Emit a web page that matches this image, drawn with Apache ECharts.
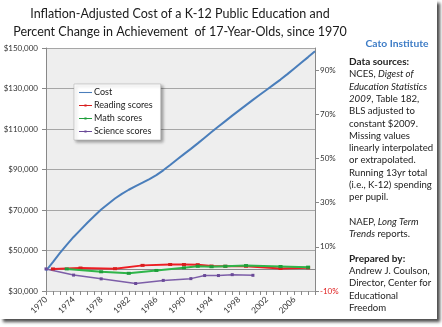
<!DOCTYPE html>
<html><head><meta charset="utf-8">
<script src="https://cdn.jsdelivr.net/npm/echarts@6/dist/echarts.min.js"></script>
<style>html,body{margin:0;padding:0;background:#fff}#c{width:442px;height:327px}</style>
</head><body><div id="c"></div>
<script>
// ---- data ----
const costYears = [1970,1971,1972,1973,1974,1975,1976,1977,1978,1979,1980,1981,1982,1983,1984,1985,1986,1987,1988,1989,1990,1991,1992,1993,1994,1995,1996,1997,1998,1999,2000,2001,2002,2003,2004,2005,2006,2007,2008,2009];
const costValues = [40000,44300,48700,52800,56700,60200,63700,67000,70200,73000,75700,78000,80000,81800,83500,85300,87200,89600,92200,94900,97600,100200,102900,105700,108500,111200,113900,116600,119200,121800,124400,126900,129400,131900,134400,137100,139900,142700,145500,148400];

const readingYears = [1971,1975,1980,1984,1988,1990,1992,1994,1996,1999,2004,2008];
const readingPct   = [0,0.4,0.1,1.6,2.0,2.0,1.9,1.3,1.2,1.2,0.2,0.5];

const mathYears = [1973,1978,1982,1986,1990,1992,1994,1996,1999,2004,2008];
const mathPct   = [0,-1.3,-2.0,-0.7,0.5,1.2,1.0,1.2,1.5,1.1,0.8];

const scienceYears = [1970,1974,1978,1983,1987,1991,1993,1995,1997,2000];
const sciencePct   = [0,-2.8,-4.5,-6.6,-5.2,-4.4,-3.0,-3.0,-2.6,-2.9];

const seriesNames = ['Cost','Reading scores','Math scores','Science scores'];
const titleLines = ['Inflation-Adjusted Cost of a K-12 Public Education and',
                    'Percent Change in Achievement  of 17-Year-Olds, since 1970'];
const brand = 'Cato Institute';
// each line: list of [text, style] (n = normal, i = italic, b = bold)
const noteLines = [
  [['Data sources:','b']],
  [['NCES, ','n'],['Digest of','i']],
  [['Education Statistics','i']],
  [['2009','i'],[', Table 182,','n']],
  [['BLS adjusted to','n']],
  [['constant $2009.','n']],
  [['Missing values','n']],
  [['linearly interpolated','n']],
  [['or extrapolated.','n']],
  [['Running 13yr total','n']],
  [['(i.e., K-12) spending','n']],
  [['per pupil.','n']],
  [],
  [['NAEP, ','n'],['Long Term','i']],
  [['Trends','i'],[' reports.','n']],
  [],
  [['Prepared by:','b']],
  [['Andrew J. Coulson,','n']],
  [['Director, Center for','n']],
  [['Educational','n']],
  [['Freedom','n']]
];

// ---- build ----
const FONT = 'Lato, "Liberation Sans", sans-serif';
const zip = (xs, ys) => xs.map((x, i) => [x, ys[i]]);

const graphics = [];
graphics.push({type:'rect', z:-100, shape:{x:0,y:0,width:437,height:319},
  style:{fill:'#fff', shadowBlur:3, shadowOffsetX:3, shadowOffsetY:3, shadowColor:'rgba(0,0,0,0.7)'}});
titleLines.forEach((t, i) => graphics.push({type:'text', z:10, style:{
  text:t, x:180, y:14 + i*18, align:'center', verticalAlign:'middle',
  font:'12.5px ' + FONT, fill:'#1a1a1a'}}));
graphics.push({type:'text', z:10, style:{text:brand, x:397, y:44, align:'center', verticalAlign:'middle',
  font:'bold 10.3px ' + FONT, fill:'#3d7cc6'}});
noteLines.forEach((segs, i) => {
  if (!segs.length) return;
  graphics.push({type:'text', z:10, style:{
    text: segs.map(s => '{' + s[1] + '|' + s[0] + '}').join(''),
    x:349, y:62 + i*12.3, verticalAlign:'middle',
    rich:{
      n:{font:'9.6px ' + FONT, fill:'#222'},
      i:{font:'italic 9.6px ' + FONT, fill:'#222'},
      b:{font:'bold 10px ' + FONT, fill:'#222'}
    }}});
});

const lineIcon = 'path://M0,3H24V5H0Z';
const markIcon = 'path://M0,3H10V2H14V3H24V5H14V6H10V5H0Z';

const chart = echarts.init(document.getElementById('c'), null, {renderer:'canvas'});
chart.setOption({
  animation:false,
  textStyle:{fontFamily:FONT},
  graphic:graphics,
  grid:{left:46, right:127, top:48, bottom:36, show:true, backgroundColor:'#eeeeee', borderWidth:0},
  legend:{
    orient:'vertical', left:74, top:84,
    data:[
      {name:seriesNames[0], icon:lineIcon},
      {name:seriesNames[1], icon:markIcon},
      {name:seriesNames[2], icon:markIcon},
      {name:seriesNames[3], icon:markIcon}
    ],
    itemWidth:13, itemHeight:4, itemGap:2,
    padding:[3,8,3,5],
    backgroundColor:'#fff', borderColor:'#aaa', borderWidth:0.5,
    shadowBlur:3, shadowOffsetX:2, shadowOffsetY:2, shadowColor:'rgba(0,0,0,0.35)',
    textStyle:{fontSize:9, color:'#222', fontFamily:FONT, padding:[0,0,0,-3], lineHeight:11}
  },
  xAxis:[
    {type:'value', min:1970, max:2009, interval:4,
     axisLine:{show:true, lineStyle:{color:'#888'}},
     axisTick:{show:false},
     splitLine:{show:false},
     axisLabel:{rotate:45, fontSize:8.5, color:'#333', margin:7, showMaxLabel:false, formatter:v => String(v)}
    },
    {type:'value', min:1970, max:2009, interval:1, position:'bottom',
     axisLine:{show:false},
     axisTick:{show:true, length:4, lineStyle:{color:'#888'}},
     splitLine:{show:false},
     axisLabel:{show:false}
    }
  ],
  yAxis:[
    {type:'value', min:30000, max:150000, interval:20000,
     axisLine:{show:true, lineStyle:{color:'#888'}},
     axisTick:{show:true, length:4, lineStyle:{color:'#888'}},
     splitLine:{show:true, lineStyle:{color:'#a6a6a6', width:1}},
     axisLabel:{fontSize:8, color:'#333', margin:8, formatter:v => '$' + v.toLocaleString('en-US')}
    },
    {type:'value', position:'right', min:-10, max:100, interval:20,
     axisLine:{show:true, lineStyle:{color:'#888'}},
     axisTick:{show:true, length:4, lineStyle:{color:'#888'}},
     splitLine:{show:false},
     axisLabel:{fontSize:8, color:'#333', margin:5, showMaxLabel:false,
       formatter:v => v < 0 ? '{neg|' + v + '%}' : v + '%',
       rich:{neg:{color:'#e02020', fontSize:8}}}
    }
  ],
  series:[
    {name:seriesNames[0], type:'line', yAxisIndex:0, data:zip(costYears, costValues),
     showSymbol:false, symbol:'none', lineStyle:{color:'#4a7ebb', width:2}, itemStyle:{color:'#4a7ebb'}, z:3},
    {name:seriesNames[1], type:'line', yAxisIndex:1, data:zip(readingYears, readingPct),
     symbol:'rect', symbolSize:[4,3], lineStyle:{color:'#ee1d23', width:2}, itemStyle:{color:'#d81e1e'}, z:4},
    {name:seriesNames[2], type:'line', yAxisIndex:1, data:zip(mathYears, mathPct),
     symbol:'rect', symbolSize:[4,3], lineStyle:{color:'#2fb54a', width:2}, itemStyle:{color:'#1e9e3a'}, z:5},
    {name:seriesNames[3], type:'line', yAxisIndex:1, data:zip(scienceYears, sciencePct),
     symbol:'rect', symbolSize:[3,3], lineStyle:{color:'#7d5ea8', width:1.5}, itemStyle:{color:'#6a4a98'}, z:4}
  ]
});
</script></body></html>
